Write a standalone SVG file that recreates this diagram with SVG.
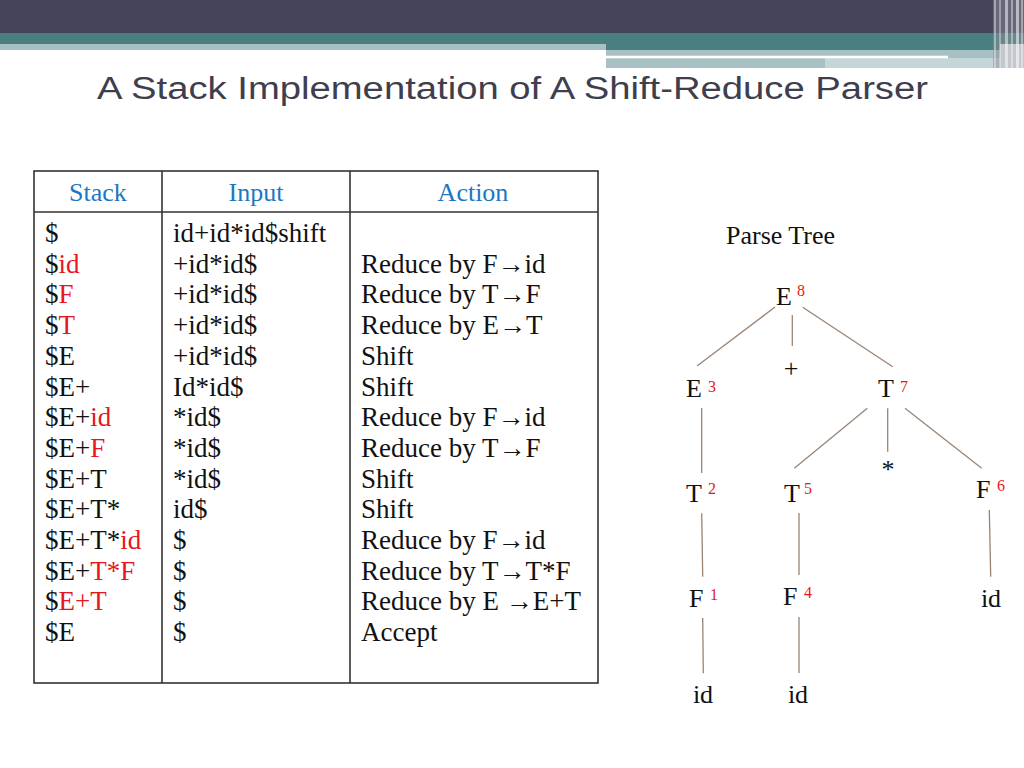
<svg xmlns="http://www.w3.org/2000/svg" width="1024" height="768" viewBox="0 0 1024 768">
<style>
.t{font-family:"Liberation Serif","Times New Roman",serif;font-size:27px;fill:#111}
.h{font-family:"Liberation Serif","Times New Roman",serif;font-size:26px;fill:#1a78c2;text-anchor:middle}
.r{fill:#e8161c}
.n{font-family:"Liberation Serif","Times New Roman",serif;font-size:26px;fill:#111}
.s{font-family:"Liberation Serif","Times New Roman",serif;font-size:16px;fill:#e8161c}
.e{stroke:#9a8474;stroke-width:1.3;fill:none}
.g{stroke:#333;stroke-width:1.6;fill:none}
</style>
<rect width="1024" height="768" fill="#fff"/>
<g id="header">
<rect x="0" y="0" width="1024" height="33" fill="#44435a"/>
<rect x="0" y="33" width="1024" height="11" fill="#4a7f82"/>
<rect x="0" y="44" width="606" height="6" fill="#a7c0c3"/>
<rect x="606" y="44" width="394" height="6" fill="#4a7f82"/>
<rect x="606" y="50" width="394" height="18" fill="#a7c0c3"/>
<rect x="825" y="58" width="175" height="10" fill="#c5d6d8"/>
<rect x="606" y="55.7" width="342" height="2.6" fill="#fff"/>
<rect x="993" y="0" width="31" height="68" fill="#8a8f9a" opacity="0.5"/>
<rect x="994" y="0" width="2" height="68" fill="#fff" opacity="0.4"/>
<rect x="999" y="0" width="2" height="68" fill="#fff" opacity="0.35"/>
<rect x="1005" y="0" width="3" height="68" fill="#fff" opacity="0.5"/>
<rect x="1011" y="0" width="2" height="68" fill="#fff" opacity="0.4"/>
<rect x="1016" y="0" width="3" height="68" fill="#fff" opacity="0.55"/>
<rect x="1021" y="0" width="2" height="68" fill="#fff" opacity="0.4"/>
</g>
<text x="97" y="99" font-family="Liberation Sans, Arial, sans-serif" font-size="31" fill="#3e3e4e" textLength="831" lengthAdjust="spacingAndGlyphs">A Stack Implementation of A Shift-Reduce Parser</text>
<g id="table">
<rect class="g" x="34" y="171" width="564" height="512"/>
<line class="g" x1="34" y1="212" x2="598" y2="212"/>
<line class="g" x1="162" y1="171" x2="162" y2="683"/>
<line class="g" x1="350" y1="171" x2="350" y2="683"/>
<text class="h" x="98" y="201">Stack</text>
<text class="h" x="256" y="201">Input</text>
<text class="h" x="473" y="201">Action</text>
<g id="stack-col">
<text class="t" x="45" y="242">$</text>
<text class="t" x="45" y="272.7">$<tspan class="r">id</tspan></text>
<text class="t" x="45" y="303.4">$<tspan class="r">F</tspan></text>
<text class="t" x="45" y="334.1">$<tspan class="r">T</tspan></text>
<text class="t" x="45" y="364.8">$E</text>
<text class="t" x="45" y="395.5">$E+</text>
<text class="t" x="45" y="426.2">$E+<tspan class="r">id</tspan></text>
<text class="t" x="45" y="456.9">$E+<tspan class="r">F</tspan></text>
<text class="t" x="45" y="487.6">$E+T</text>
<text class="t" x="45" y="518.3">$E+T*</text>
<text class="t" x="45" y="549">$E+T*<tspan class="r">id</tspan></text>
<text class="t" x="45" y="579.7">$E+<tspan class="r">T*F</tspan></text>
<text class="t" x="45" y="610.4">$<tspan class="r">E+T</tspan></text>
<text class="t" x="45" y="641.1">$E</text>
</g>
<g id="input-col">
<text class="t" x="173" y="242">id+id*id$shift</text>
<text class="t" x="173" y="272.7">+id*id$</text>
<text class="t" x="173" y="303.4">+id*id$</text>
<text class="t" x="173" y="334.1">+id*id$</text>
<text class="t" x="173" y="364.8">+id*id$</text>
<text class="t" x="173" y="395.5">Id*id$</text>
<text class="t" x="173" y="426.2">*id$</text>
<text class="t" x="173" y="456.9">*id$</text>
<text class="t" x="173" y="487.6">*id$</text>
<text class="t" x="173" y="518.3">id$</text>
<text class="t" x="173" y="549">$</text>
<text class="t" x="173" y="579.7">$</text>
<text class="t" x="173" y="610.4">$</text>
<text class="t" x="173" y="641.1">$</text>
</g>
<g id="action-col">
<text class="t" x="361" y="272.7">Reduce by F→id</text>
<text class="t" x="361" y="303.4">Reduce by T→F</text>
<text class="t" x="361" y="334.1">Reduce by E→T</text>
<text class="t" x="361" y="364.8">Shift</text>
<text class="t" x="361" y="395.5">Shift</text>
<text class="t" x="361" y="426.2">Reduce by F→id</text>
<text class="t" x="361" y="456.9">Reduce by T→F</text>
<text class="t" x="361" y="487.6">Shift</text>
<text class="t" x="361" y="518.3">Shift</text>
<text class="t" x="361" y="549">Reduce by F→id</text>
<text class="t" x="361" y="579.7">Reduce by T→T*F</text>
<text class="t" x="361" y="610.4">Reduce by E →E+T</text>
<text class="t" x="361" y="641.1">Accept</text>
</g>
</g>
<text class="n" x="726" y="244">Parse Tree</text>
<g id="connectors">
<line class="e" x1="775" y1="307" x2="697" y2="366"/>
<line class="e" x1="792.3" y1="315" x2="792.3" y2="346"/>
<line class="e" x1="802.7" y1="307.3" x2="892.7" y2="366.7"/>
<line class="e" x1="701.7" y1="408" x2="701.7" y2="473"/>
<line class="e" x1="867.3" y1="408.3" x2="794.3" y2="468.3"/>
<line class="e" x1="887.7" y1="408.3" x2="887.7" y2="451.7"/>
<line class="e" x1="905" y1="408.3" x2="981.7" y2="468.3"/>
<line class="e" x1="701.7" y1="513.3" x2="702.7" y2="576.7"/>
<line class="e" x1="799" y1="513" x2="799" y2="575"/>
<line class="e" x1="989.3" y1="510" x2="990.7" y2="576.7"/>
<line class="e" x1="702.7" y1="618" x2="703.3" y2="673.3"/>
<line class="e" x1="799" y1="617" x2="799" y2="673"/>
</g>
<g id="E8"><text class="n" x="776" y="305">E</text><text class="s" x="797" y="296">8</text></g>
<g id="plus"><text class="n" x="791" y="377" text-anchor="middle">+</text></g>
<g id="E3"><text class="n" x="686" y="397">E</text><text class="s" x="708" y="392">3</text></g>
<g id="T7"><text class="n" x="878" y="397">T</text><text class="s" x="900" y="392">7</text></g>
<g id="star"><text class="n" x="888" y="478" text-anchor="middle">*</text></g>
<g id="T2"><text class="n" x="686" y="502">T</text><text class="s" x="708" y="494">2</text></g>
<g id="T5"><text class="n" x="784" y="502">T</text><text class="s" x="804" y="494">5</text></g>
<g id="F6"><text class="n" x="976" y="498">F</text><text class="s" x="997" y="491">6</text></g>
<g id="F1"><text class="n" x="689" y="607">F</text><text class="s" x="710" y="600">1</text></g>
<g id="F4"><text class="n" x="783" y="605">F</text><text class="s" x="804" y="598">4</text></g>
<g id="id3"><text class="n" x="991" y="607" text-anchor="middle">id</text></g>
<g id="id1"><text class="n" x="703" y="703" text-anchor="middle">id</text></g>
<g id="id2"><text class="n" x="798" y="703" text-anchor="middle">id</text></g>
</svg>
